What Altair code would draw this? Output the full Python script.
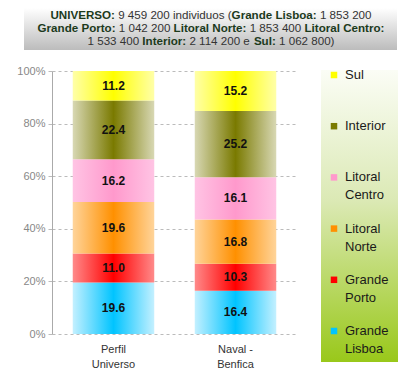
import altair as alt
import pandas as pd

categories = ["Perfil|Universo", "Naval -|Benfica"]
regions = ["Grande Lisboa", "Grande Porto", "Litoral Norte", "Litoral Centro", "Interior", "Sul"]
legend_labels = ["Grande|Lisboa", "Grande|Porto", "Litoral|Norte", "Litoral|Centro", "Interior", "Sul"]
perfil_universo = [19.6, 11.0, 19.6, 16.2, 22.4, 11.2]
naval_benfica = [16.4, 10.3, 16.8, 16.1, 25.2, 15.2]
center_colors = ["#00c4ff", "#ff0000", "#ff9000", "#ff99cc", "#7a7a00", "#ffff00"]
edge_colors = ["#c4f0ff", "#ff8a8a", "#ffd49a", "#ffc4e4", "#d8d8b4", "#ffffa8"]

title_lines = [
    [("UNIVERSO:", True), (" 9 459 200 individuos (", False), ("Grande Lisboa:", True), (" 1 853 200", False)],
    [("Grande Porto:", True), (" 1 042 200 ", False), ("Litoral Norte:", True), (" 1 853 400 ", False), ("Litoral Centro:", True)],
    [("1 533 400 ", False), ("Interior:", True), (" 2 114 200 e ", False), ("Sul:", True), (" 1 062 800)", False)],
]

FONT = "Liberation Sans"
TFS = 11.6
REG = {" ": 278, "(": 333, ")": 333, ":": 278, "-": 333, "i": 222, "n": 556, "d": 556, "v": 500,
       "u": 556, "o": 556, "s": 500, "e": 556}
BOLD = {" ": 278, ":": 333, "G": 778, "r": 389, "a": 556, "n": 611, "d": 611, "e": 556, "L": 611,
        "i": 278, "s": 556, "b": 611, "o": 611, "P": 667, "t": 333, "l": 278, "N": 722, "C": 722,
        "c": 556, "I": 278, "S": 667, "u": 611, "U": 722, "V": 667, "E": 667, "R": 722, "O": 778}


def tw(s, bold):
    tab = BOLD if bold else REG
    return sum(tab.get(c, 556) for c in s) * TFS / 1000.0


W, H = 245, 263
cx = 159
line_y = [-55, -42, -29]
rows = []
for li, segs in enumerate(title_lines):
    total = sum(tw(t, b) for t, b in segs)
    cur = cx - total / 2
    for t, b in segs:
        lead = len(t) - len(t.lstrip(" "))
        trail = len(t) - len(t.rstrip(" "))
        cur += tw(" " * lead, b)
        s = t.strip(" ")
        rows.append({"text": s, "bold": b, "px": cur, "py": line_y[li]})
        cur += tw(s, b) + tw(" " * trail, b)
tdf = pd.DataFrame(rows)

recs = []
for ci, (cat, vals) in enumerate(zip(categories, [perfil_universo, naval_benfica])):
    for ri, (r, v) in enumerate(zip(regions, vals)):
        recs.append({"cat": cat, "region": r, "value": v, "order": ri})
df = pd.DataFrame(recs)

x_enc = alt.X("cat:N", sort=categories, title=None,
              scale=alt.Scale(paddingInner=0.332, paddingOuter=0.17),
              axis=alt.Axis(labelAngle=0, ticks=False, domain=False, labelPadding=9,
                            labelExpr="split(datum.label, '|')", labelLineHeight=15,
                            labelFontSize=11, labelColor="#333333", labelFont=FONT))
y_scale = alt.Scale(domain=[0, 100], nice=False)
y_axis = alt.Axis(values=[0, 20, 40, 60, 80, 100], labelExpr="datum.value + '%'", title=None,
                  grid=True, gridDash=[3, 3], gridColor="#bbbbbb", domainColor="#aaaaaa",
                  tickColor="#bbbbbb", tickSize=4, labelPadding=3, labelFontSize=11,
                  labelColor="#888888", labelFont=FONT)

base = alt.Chart(df).transform_stack(
    stack="value", groupby=["cat"], as_=["y0", "y1"],
    sort=[alt.SortField("order", order="ascending")])

layers = []
# title background
layers.append(
    alt.Chart(pd.DataFrame({"a": [0]})).mark_rect(
        color=alt.Gradient(gradient="linear", x1=0, x2=0, y1=0, y2=1,
                           stops=[alt.GradientStop(offset=0, color="#ffffff"),
                                  alt.GradientStop(offset=1, color="#bcbcbc")])
    ).encode(x=alt.value(-28), x2=alt.value(345), y=alt.value(-63), y2=alt.value(-21))
)
# legend background
layers.append(
    alt.Chart(pd.DataFrame({"a": [0]})).mark_rect(
        color=alt.Gradient(gradient="linear", x1=0, x2=0, y1=0, y2=1,
                           stops=[alt.GradientStop(offset=0, color="#fbfdf6"),
                                  alt.GradientStop(offset=0.45, color="#dbe9b4"),
                                  alt.GradientStop(offset=1, color="#99c81a")])
    ).encode(x=alt.value(269), x2=alt.value(346), y=alt.value(-1), y2=alt.value(291))
)

for i, r in enumerate(regions):
    grad = alt.Gradient(gradient="linear", x1=0, x2=1, y1=0, y2=0,
                        stops=[alt.GradientStop(offset=0, color=edge_colors[i]),
                               alt.GradientStop(offset=0.5, color=center_colors[i]),
                               alt.GradientStop(offset=1, color=edge_colors[i])])
    layers.append(
        base.transform_filter(alt.datum.region == r).mark_bar(color=grad).encode(
            x=x_enc, y=alt.Y("y0:Q", scale=y_scale, axis=y_axis), y2="y1:Q")
    )

layers.append(
    base.transform_calculate(mid="(datum.y0 + datum.y1) / 2").mark_text(
        font=FONT, fontSize=12, fontWeight="bold", color="#111111").encode(
        x=x_enc, y=alt.Y("mid:Q", scale=y_scale, axis=y_axis),
        text=alt.Text("value:Q", format=".1f"))
)

# legend items
ldf = pd.DataFrame({"region": regions, "label": legend_labels,
                    "color": center_colors, "idx": [5, 4, 3, 2, 1, 0]})
leg = alt.Chart(ldf).transform_calculate(ly="4 + datum.idx * 51.2")
layers.append(
    leg.mark_square(size=42, opacity=1).encode(
        x=alt.value(282), y=alt.Y("ly:Q", scale=None, axis=None),
        color=alt.Color("color:N", scale=None))
)
layers.append(
    leg.mark_text(font=FONT, fontSize=13, align="left", baseline="middle", lineBreak="|",
                  lineHeight=18, color="#1a1a1a").encode(
        x=alt.value(293), y=alt.Y("ly:Q", scale=None, axis=None), text="label:N")
)

# title text
for b in [True, False]:
    layers.append(
        alt.Chart(tdf[tdf["bold"] == b]).mark_text(
            font=FONT, fontSize=TFS, fontWeight="bold" if b else "normal", align="left",
            baseline="middle", color="#1c3a1c" if b else "#333333").encode(
            x=alt.X("px:Q", scale=None, axis=None), y=alt.Y("py:Q", scale=None, axis=None),
            text="text:N")
    )

chart = alt.layer(*layers).properties(
    width=W, height=H,
    autosize=alt.AutoSizeParams(type="none"),
    padding={"left": 44, "top": 63, "right": 103, "bottom": 40},
).configure_view(stroke=None)

chart.save("out.html", embed_options={"renderer": "svg", "actions": False})
